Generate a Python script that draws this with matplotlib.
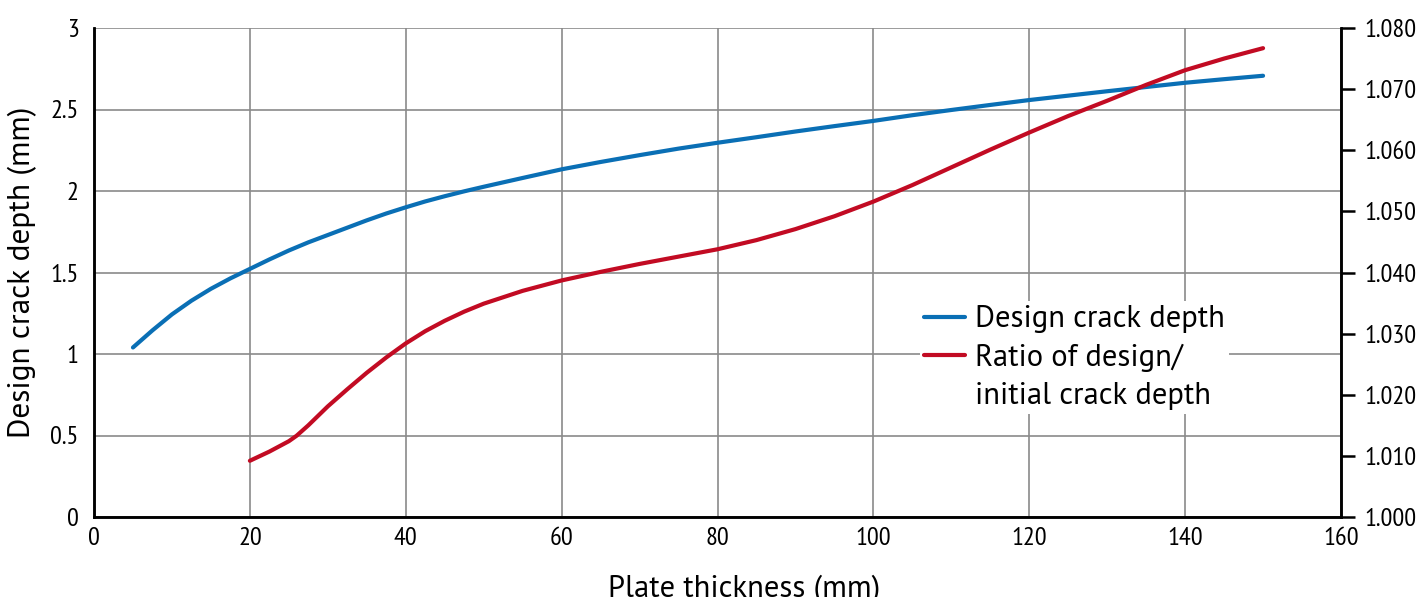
import matplotlib
matplotlib.use("Agg")
import matplotlib.pyplot as plt
from matplotlib.lines import Line2D
from matplotlib.ticker import FormatStrFormatter

TICK_FONT = ['PT Sans Narrow', 'DejaVu Sans']
TEXT_FONT = ['PT Sans', 'DejaVu Sans']
plt.rcParams['font.family'] = TEXT_FONT

# Data
depth_x = [5, 7.5, 10, 12.5, 15, 17.5, 20, 22.5, 25, 27.5, 30, 32.5, 35, 37.5, 40, 42.5, 45,
           47.5, 50, 55, 60, 65, 70, 75, 80, 85, 90, 95, 100, 105, 110, 115, 120, 125, 130,
           135, 140, 145, 150]
depth_y = [1.04, 1.145, 1.243, 1.327, 1.40, 1.464, 1.522, 1.58, 1.635, 1.685, 1.73, 1.775, 1.82,
           1.862, 1.90, 1.936, 1.968, 1.998, 2.026, 2.08, 2.133, 2.178, 2.22, 2.26, 2.296, 2.33,
           2.365, 2.398, 2.43, 2.465, 2.497, 2.528, 2.558, 2.585, 2.612, 2.638, 2.664, 2.686,
           2.707]

ratio_x = [20, 22.5, 25, 26, 27.5, 30, 32.5, 35, 37.5, 40, 42.5, 45, 47.5, 50, 55, 60, 65, 70,
           75, 80, 85, 90, 95, 100, 105, 110, 115, 120, 125, 130, 135, 140, 145, 150]
ratio_y = [1.0092, 1.0107, 1.0124, 1.0133, 1.0150, 1.0181, 1.0209, 1.0236, 1.0261, 1.0284,
           1.0304, 1.0321, 1.0336, 1.0349, 1.0370, 1.0387, 1.0401, 1.0414, 1.0426, 1.0438,
           1.0453, 1.0471, 1.0492, 1.0516, 1.0543, 1.0572, 1.0601, 1.0629, 1.0656, 1.0681,
           1.0707, 1.0731, 1.0750, 1.0767]

x_ticks = [0, 20, 40, 60, 80, 100, 120, 140, 160]
left_ticks = [0, 0.5, 1, 1.5, 2, 2.5, 3]
left_labels = ['0', '0.5', '1', '1.5', '2', '2.5', '3']
right_ticks = [1.000, 1.010, 1.020, 1.030, 1.040, 1.050, 1.060, 1.070, 1.080]

BLUE = '#0a6fb5'
RED = '#c20b23'
GRID = '#8a8a8a'

fig = plt.figure(figsize=(14.22, 5.97), dpi=100)
ax = fig.add_axes([94 / 1422, 80 / 597, 1247 / 1422, 489 / 597])
ax2 = ax.twinx()

l1, = ax.plot(depth_x, depth_y, color=BLUE, lw=3.0, solid_capstyle='round',
              solid_joinstyle='round', zorder=3)
l2, = ax2.plot(ratio_x, ratio_y, color=RED, lw=3.0, solid_capstyle='round',
               solid_joinstyle='round', zorder=3)

ax.set_xlim(0, 160)
ax.set_ylim(0, 3)
ax2.set_ylim(1.0, 1.08)

ax.set_xticks(x_ticks)
ax.set_yticks(left_ticks)
ax.set_yticklabels(left_labels)
ax2.set_yticks(right_ticks)
ax2.yaxis.set_major_formatter(FormatStrFormatter('%.3f'))

ax.grid(True, color=GRID, lw=1.2)
ax.set_axisbelow(True)

for a in (ax, ax2):
    a.spines['top'].set_visible(False)
    for s in ('left', 'bottom', 'right'):
        a.spines[s].set_linewidth(1.8)
        a.spines[s].set_color('black')

ax.tick_params(axis='x', length=0, pad=7, labelsize=19)
ax.tick_params(axis='y', length=0, pad=11, labelsize=19)
ax2.tick_params(axis='y', length=10, width=1.8, direction='out', pad=7, labelsize=19)
for lab in ax.get_xticklabels() + ax.get_yticklabels() + ax2.get_yticklabels():
    lab.set_fontfamily(TICK_FONT)

ax.set_xlabel('Plate thickness (mm)', fontsize=22)
ax.xaxis.set_label_coords(0.521, -0.118)
ax.set_ylabel('Design crack depth (mm)', fontsize=22.5, labelpad=10)

blank = Line2D([], [], color='none')
leg = ax2.legend(handles=[l1, l2, blank],
                 labels=['Design crack depth', 'Ratio of design/', 'initial crack depth'],
                 loc='upper left', bbox_to_anchor=(0.662, 0.442),
                 frameon=True, fancybox=False, framealpha=1, edgecolor='none',
                 fontsize=22, handlelength=1.35, handletextpad=0.3,
                 borderpad=0.15, labelspacing=0.33, borderaxespad=0)

fig.savefig('out.png', dpi=100)
